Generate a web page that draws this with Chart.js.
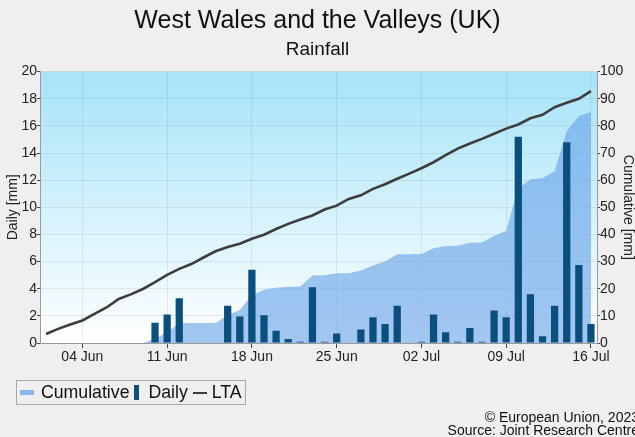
<!DOCTYPE html>
<html>
<head>
<meta charset="utf-8">
<title>West Wales and the Valleys (UK) - Rainfall</title>
<script src="https://cdn.jsdelivr.net/npm/chart.js@4.4.0/dist/chart.umd.min.js"></script>
<style>
  body { margin: 0; background: #efefef; font-family: "Liberation Sans", Arial, sans-serif; }
  #wrap { position: relative; width: 635px; height: 437px; overflow: hidden; }
  #legend {
    position: absolute; left: 16px; top: 380px; height: 25px;
    border: 1px solid #a8a8a8; box-sizing: border-box;
    display: flex; align-items: center; padding: 0 3px 0 2px;
    font-size: 17.7px; color: #111; white-space: nowrap;
  }
  #legend .item { display: flex; align-items: center; }
  #legend .sym { display: inline-block; }
  #source {
    position: absolute; right: -4px; top: 411px;
    text-align: right; font-size: 14px; line-height: 13px; color: #111;
  }
</style>
</head>
<body>
<div id="wrap">
  <canvas id="rainChart" width="635" height="437"></canvas>
  <div id="legend"></div>
  <div id="source">© European Union, 2023<br>Source: Joint Research Centre</div>
</div>
<script>
// 1 Jun .. 16 Jul
const months = [['Jun', 30], ['Jul', 16]];
const days = [];
months.forEach(([m, n]) => {
  for (let d = 1; d <= n; d++) days.push(String(d).padStart(2, '0') + ' ' + m);
});
const tickLabels = ['04 Jun', '11 Jun', '18 Jun', '25 Jun', '02 Jul', '09 Jul', '16 Jul'];

// daily rainfall [mm]
const daily = [
  0, 0, 0, 0, 0, 0, 0, 0, 0, 1.5,
  2.1, 3.3, 0, 0, 0, 2.75, 1.95, 5.4, 2.05, 0.9,
  0.3, 0.1, 4.1, 0.1, 0.7, 0, 1.0, 1.9, 1.4, 2.75,
  0, 0.1, 2.1, 0.8, 0.1, 1.1, 0.1, 2.4, 1.9, 15.2,
  3.6, 0.5, 2.75, 14.8, 5.75, 1.4
];

// cumulative rainfall [mm]
const cumulative = [
  0, 0, 0, 0, 0, 0, 0, 0, 0, 1.6,
  4.0, 7.3, 7.4, 7.4, 7.4, 10.2, 12.2, 17.6, 19.6, 20.4,
  20.7, 20.8, 24.9, 25.0, 25.7, 25.7, 26.7, 28.6, 30.0, 32.7,
  32.7, 32.8, 34.9, 35.7, 35.8, 36.9, 37.0, 39.4, 41.3, 57.0,
  60.2, 60.8, 63.3, 78.0, 83.6, 85.1
];

// long term average, cumulative [mm]
const lta = [
  3.3, 5.2, 6.8, 8.3, 10.7, 13.1, 16.2, 17.9, 19.9, 22.4,
  25.1, 27.3, 29.1, 31.5, 33.8, 35.4, 36.6, 38.4, 39.9, 42.0,
  43.9, 45.5, 47.0, 49.2, 50.6, 53.1, 54.4, 56.8, 58.5, 60.5,
  62.4, 64.4, 66.6, 69.2, 71.6, 73.5, 75.2, 77.1, 79.0, 80.5,
  82.8, 84.1, 86.9, 88.5, 90.0, 92.8
];

const plotBackground = {
  id: 'plotBackground',
  beforeDraw(chart) {
    const { ctx, chartArea: { left, top, right, bottom } } = chart;
    const g = ctx.createLinearGradient(0, top, 0, bottom);
    g.addColorStop(0, '#a6e3f9');
    g.addColorStop(1, '#ffffff');
    ctx.save();
    ctx.fillStyle = g;
    ctx.fillRect(left, top, right - left, bottom - top);
    ctx.restore();
  }
};

// legend box under the chart, built from the datasets
const htmlLegend = {
  id: 'htmlLegend',
  afterUpdate(chart) {
    const box = document.getElementById('legend');
    box.innerHTML = '';
    chart.data.datasets.forEach(ds => {
      const item = document.createElement('span');
      item.className = 'item';
      const sym = document.createElement('span');
      sym.className = 'sym';
      if (ds.label === 'Cumulative') {
        sym.style.cssText = 'width:14px;height:5px;margin:0 7px 0 1px;background:#86b8ea';
      } else if (ds.type === 'bar') {
        sym.style.cssText = 'width:5px;height:15px;margin:0 9px 0 5px;background:' + ds.backgroundColor;
      } else {
        sym.style.cssText = 'width:14px;height:2px;margin:0 5px 0 5px;background:' + ds.borderColor;
      }
      item.appendChild(sym);
      item.appendChild(document.createTextNode(ds.label));
      box.appendChild(item);
    });
  }
};

const gridColor = 'rgba(0,0,0,0.07)';
const tickFont = { family: '"Liberation Sans", Arial, sans-serif', size: 14 };

new Chart(document.getElementById('rainChart'), {
  type: 'bar',
  data: {
    labels: days,
    datasets: [
      {
        type: 'line',
        label: 'Cumulative',
        data: cumulative,
        yAxisID: 'y1',
        fill: 'origin',
        backgroundColor: 'rgba(100,160,230,0.6)',
        borderColor: 'transparent',
        borderWidth: 0,
        pointRadius: 0,
        tension: 0,
        order: 2
      },
      {
        type: 'bar',
        label: 'Daily',
        data: daily,
        yAxisID: 'y',
        backgroundColor: '#0b4f7f',
        barPercentage: 0.6,
        categoryPercentage: 1,
        order: 1
      },
      {
        type: 'line',
        label: 'LTA',
        data: lta,
        yAxisID: 'y1',
        borderColor: '#3d3d3d',
        borderWidth: 2.6,
        pointRadius: 0,
        tension: 0,
        fill: false,
        order: 0
      }
    ]
  },
  options: {
    responsive: false,
    animation: false,
    layout: { padding: 0 },
    plugins: {
      legend: { display: false },
      tooltip: { enabled: false },
      title: {
        display: true,
        text: 'West Wales and the Valleys (UK)',
        color: '#111',
        font: { family: '"Liberation Sans", Arial, sans-serif', size: 25, weight: 'normal' },
        padding: { top: 6, bottom: 0 }
      },
      subtitle: {
        display: true,
        text: 'Rainfall',
        color: '#111',
        font: { family: '"Liberation Sans", Arial, sans-serif', size: 19 },
        padding: { top: 2, bottom: 10.8 }
      }
    },
    scales: {
      x: {
        offset: true,
        grid: { color: gridColor, offset: false, tickLength: 5, tickColor: '#444' },
        border: { color: '#9a9a9a' },
        ticks: {
          autoSkip: false,
          maxRotation: 0,
          padding: 1,
          color: '#222',
          font: tickFont,
          callback(value, index) {
            const l = days[index];
            return tickLabels.includes(l) ? l : null;
          }
        },
        afterFit(scale) { scale.height = 94; }
      },
      y: {
        position: 'left',
        min: 0,
        max: 20,
        grid: { color: gridColor, tickLength: 3, tickColor: '#444' },
        border: { color: '#9a9a9a' },
        ticks: { stepSize: 2, padding: 0, color: '#222', font: tickFont },
        title: {
          display: true,
          text: 'Daily [mm]',
          color: '#222',
          font: { family: '"Liberation Sans", Arial, sans-serif', size: 14, lineHeight: 1 },
          padding: { top: 6, bottom: 0 }
        },
        afterFit(scale) { scale.width = 40; }
      },
      y1: {
        position: 'right',
        min: 0,
        max: 100,
        grid: { drawOnChartArea: false, tickLength: 3, tickColor: '#444' },
        border: { color: '#9a9a9a' },
        ticks: { stepSize: 10, padding: 0, color: '#222', font: tickFont },
        title: {
          display: true,
          text: 'Cumulative [mm]',
          color: '#222',
          font: { family: '"Liberation Sans", Arial, sans-serif', size: 14, lineHeight: 1 },
          padding: { top: 0, bottom: 0 }
        },
        afterFit(scale) { scale.width = 38; }
      }
    }
  },
  plugins: [plotBackground, htmlLegend]
});
</script>
</body>
</html>
